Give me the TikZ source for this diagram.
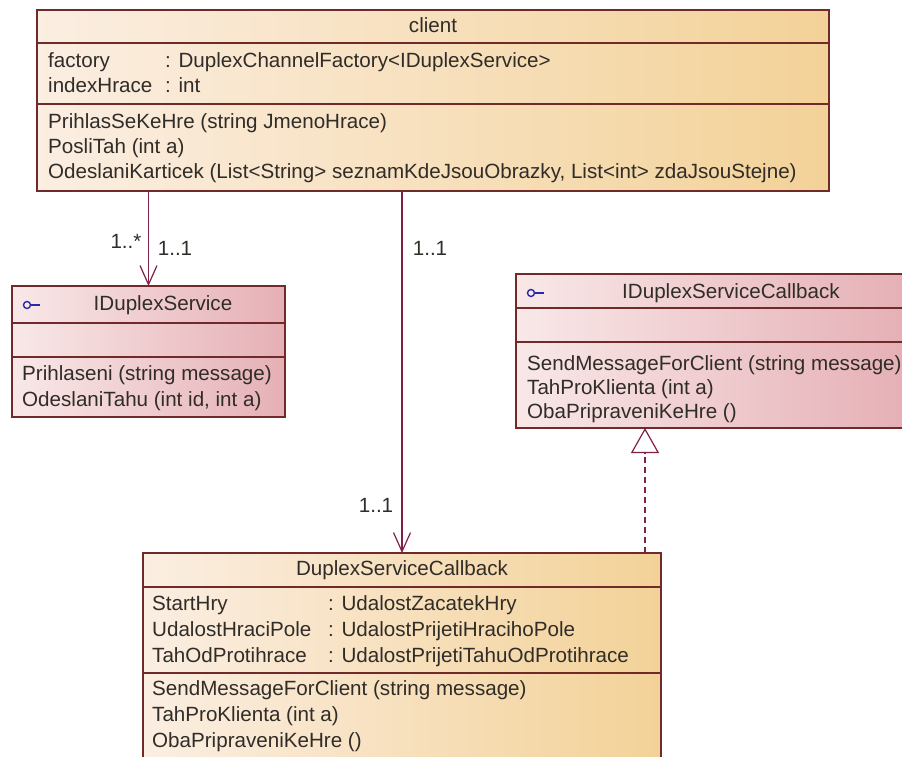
\documentclass[tikz,border=0pt]{standalone}
\usepackage{fontspec}
\setmainfont{Liberation Sans}
\usetikzlibrary{arrows.meta}
\definecolor{clsA}{RGB}{251,238,226}
\definecolor{clsB}{RGB}{243,210,152}
\definecolor{ifcA}{RGB}{249,232,232}
\definecolor{ifcB}{RGB}{229,176,182}
\definecolor{bordc}{RGB}{112,42,42}
\definecolor{linec}{RGB}{128,32,72}
\definecolor{txtc}{RGB}{48,44,40}
\definecolor{iconc}{RGB}{40,40,170}
\newcommand{\fs}{\fontsize{20.6}{24}\selectfont}
\tikzset{
  cls/.style={draw=bordc, line width=1.2pt, left color=clsA, right color=clsB, inner sep=0pt, outer sep=0pt},
  ifc/.style={draw=bordc, line width=1.2pt, left color=ifcA, right color=ifcB, inner sep=0pt, outer sep=0pt},
  txt/.style={anchor=west, inner sep=0pt, text=txtc, font=\fs, text height=15pt, text depth=4pt},
  hdr/.style={inner sep=0pt, text=txtc, font=\fs, text height=15pt, text depth=4pt},
  lbl/.style={inner sep=0pt, text=txtc, font=\fs, text height=15pt, text depth=4pt},
  div/.style={draw=bordc, line width=1.2pt},
  assoc/.style={draw=linec, line width=1.2pt, -{Straight Barb[length=19pt,width=17pt,line width=1.2pt]}},
  realiz/.style={draw=linec, line width=1.2pt, dash pattern=on 6pt off 4pt, -{Triangle[open, length=25pt, width=28pt, fill=white, line width=1.2pt]}},
  icon/.style={draw=iconc, line width=1.4pt},
}
\begin{document}
\begin{tikzpicture}[x=1pt,y=-1pt]
\useasboundingbox (0,0) rectangle (902,757);
\clip (0,0) rectangle (902,757);
\fill[white] (0,0) rectangle (902,757);

% ---------- client ----------
\node[cls, minimum width=792pt, minimum height=181pt] (client) at (433,100.5) {};
\draw[div] ([yshift=-33pt]client.north west) -- ([yshift=-33pt]client.north east);
\draw[div] ([yshift=-94pt]client.north west) -- ([yshift=-94pt]client.north east);
\node[hdr] (clientT) at (433,27) {client};
\node[txt] (ca1) at (48,62) {factory};
\node[txt] (ca1t) at (165,62) {: DuplexChannelFactory<IDuplexService>};
\node[txt] (ca2) at (48,87) {indexHrace};
\node[txt] (ca2t) at (165,87) {: int};
\node[txt] (cm1) at (48,123) {PrihlasSeKeHre (string JmenoHrace)};
\node[txt] (cm2) at (48,148) {PosliTah (int a)};
\node[txt] (cm3) at (48,173) {OdeslaniKarticek (List<String> seznamKdeJsouObrazky, List<int> zdaJsouStejne)};

% ---------- IDuplexService ----------
\node[ifc, minimum width=273pt, minimum height=131pt] (isvc) at (148.5,351.5) {};
\draw[div] ([yshift=-37pt]isvc.north west) -- ([yshift=-37pt]isvc.north east);
\draw[div] ([yshift=-71pt]isvc.north west) -- ([yshift=-71pt]isvc.north east);
\draw[icon] (27,305) circle (3.5pt);
\draw[icon] (30.5,305) -- (40,305);
\node[hdr] (isvcT) at (163,305) {IDuplexService};
\node[txt] (im1) at (22,375) {Prihlaseni (string message)};
\node[txt] (im2) at (22,401) {OdeslaniTahu (int id, int a)};

% ---------- IDuplexServiceCallback ----------
\node[ifc, minimum width=390pt, minimum height=154pt] (icb) at (711,351) {};
\draw[div] ([yshift=-34pt]icb.north west) -- ([yshift=-34pt]icb.north east);
\draw[div] ([yshift=-68pt]icb.north west) -- ([yshift=-68pt]icb.north east);
\draw[icon] (531,293) circle (3.5pt);
\draw[icon] (534.5,293) -- (544,293);
\node[hdr] (icbT) at (731,293) {IDuplexServiceCallback};
\node[txt] (jm1) at (527,365) {SendMessageForClient (string message)};
\node[txt] (jm2) at (527,389) {TahProKlienta (int a)};
\node[txt] (jm3) at (527,413) {ObaPripraveniKeHre ()};

% ---------- DuplexServiceCallback ----------
\node[cls, minimum width=518pt, minimum height=220pt] (dsc) at (402,663) {};
\draw[div] ([yshift=-34pt]dsc.north west) -- ([yshift=-34pt]dsc.north east);
\draw[div] ([yshift=-120pt]dsc.north west) -- ([yshift=-120pt]dsc.north east);
\node[hdr] (dscT) at (402,570) {DuplexServiceCallback};
\node[txt] (da1) at (152,605) {StartHry};
\node[txt] (da1t) at (328,605) {: UdalostZacatekHry};
\node[txt] (da2) at (152,631) {UdalostHraciPole};
\node[txt] (da2t) at (328,631) {: UdalostPrijetiHracihoPole};
\node[txt] (da3) at (152,657) {TahOdProtihrace};
\node[txt] (da3t) at (328,657) {: UdalostPrijetiTahuOdProtihrace};
\node[txt] (dm1) at (152,690) {SendMessageForClient (string message)};
\node[txt] (dm2) at (152,716) {TahProKlienta (int a)};
\node[txt] (dm3) at (152,742) {ObaPripraveniKeHre ()};

% ---------- connectors ----------
\draw[assoc] (isvc.north |- client.south) -- (isvc.north);
\draw[assoc] (dsc.north |- client.south) -- (dsc.north);
\draw[realiz] ([xshift=-16pt]dsc.north east) -- ([xshift=-16pt]dsc.north east |- icb.south);

% ---------- multiplicities ----------
\node[lbl] (m1) at (126,243) {1..*};
\node[lbl] (m2) at (175,250) {1..1};
\node[lbl] (m3) at (430,250) {1..1};
\node[lbl] (m4) at (376,507) {1..1};
\end{tikzpicture}
\end{document}
